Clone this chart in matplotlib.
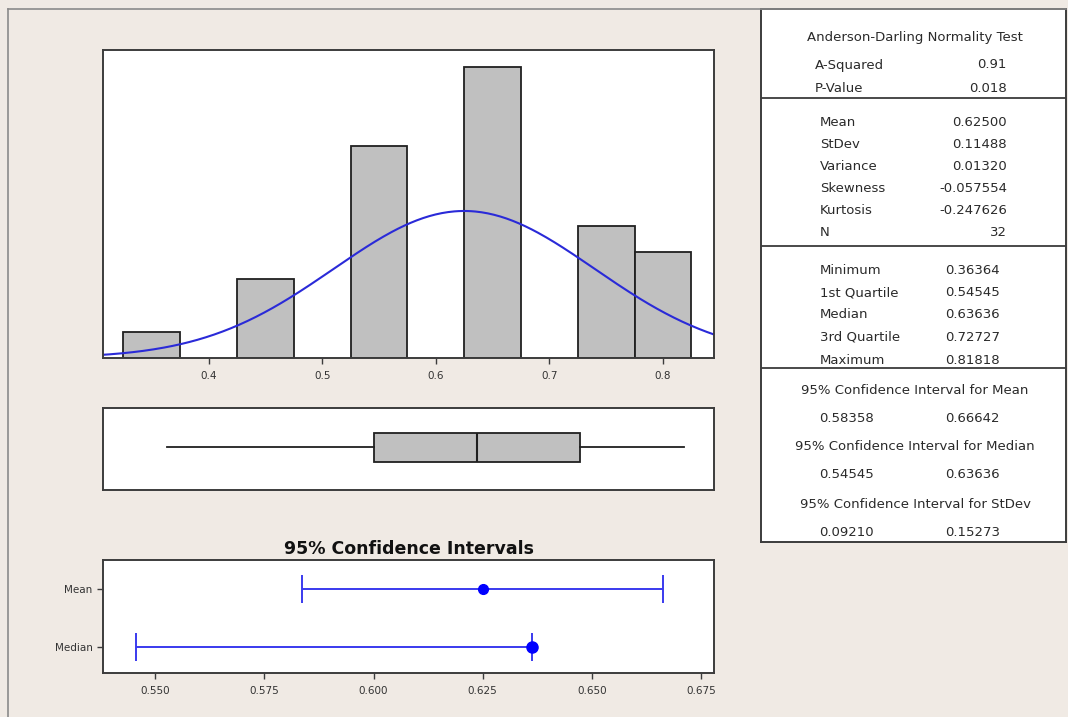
import numpy as np
import matplotlib
matplotlib.use('Agg')
import matplotlib.pyplot as plt
from matplotlib.lines import Line2D

# histogram data (bin centres, counts)
bin_centers = [0.35, 0.45, 0.55, 0.65, 0.75, 0.80]
counts = [1, 3, 8, 11, 5, 4]
bin_width = 0.05
hist_ticks = [0.4, 0.5, 0.6, 0.7, 0.8]

# summary statistics
mean = 0.625
stdev = 0.11488
n = 32
five_num = [0.36364, 0.54545, 0.63636, 0.72727, 0.81818]  # min, q1, med, q3, max

# confidence intervals
ci_labels = ['Mean', 'Median']
ci_centers = [0.625, 0.63636]
ci_low = [0.58358, 0.54545]
ci_high = [0.66642, 0.63636]
ci_ticks = [0.550, 0.575, 0.600, 0.625, 0.650, 0.675]

# summary table text
ad_rows = [('A-Squared', '0.91'), ('P-Value', '0.018')]
desc_rows = [('Mean', '0.62500'), ('StDev', '0.11488'), ('Variance', '0.01320'),
             ('Skewness', '-0.057554'), ('Kurtosis', '-0.247626'), ('N', '32')]
quant_rows = [('Minimum', '0.36364'), ('1st Quartile', '0.54545'), ('Median', '0.63636'),
              ('3rd Quartile', '0.72727'), ('Maximum', '0.81818')]
ci_rows = [('95% Confidence Interval for Mean', '0.58358', '0.66642'),
           ('95% Confidence Interval for Median', '0.54545', '0.63636'),
           ('95% Confidence Interval for StDev', '0.09210', '0.15273')]

bg = '#f0eae4'
frame_col = '#3c3c3c'
W, H = 1068, 717

fig = plt.figure(figsize=(W / 100, H / 100), dpi=100, facecolor=bg)


def px_axes(left, top, right, bottom):
    return fig.add_axes([left / W, 1 - bottom / H, (right - left) / W, (bottom - top) / H])


def style_frame(ax):
    for s in ax.spines.values():
        s.set_color(frame_col)
        s.set_linewidth(1.4)


# outer border lines
fig.add_artist(Line2D([8 / W, 1066 / W], [1 - 9 / H, 1 - 9 / H], color='#8a8a8a', lw=1.2))
fig.add_artist(Line2D([8 / W, 8 / W], [1 - 9 / H, 0], color='#8a8a8a', lw=1.2))

# ---- histogram ----
ax1 = px_axes(103, 50, 714, 358)
ax1.bar(bin_centers, counts, width=bin_width, color='#c0c0c0', edgecolor='#202020', linewidth=1.3)
x = np.linspace(0.30, 0.85, 300)
pdf = np.exp(-0.5 * ((x - mean) / stdev) ** 2) / (stdev * np.sqrt(2 * np.pi))
ax1.plot(x, pdf * n * bin_width, color='#2a2ad8', lw=1.5)
ax1.set_xlim(0.307, 0.845)
ax1.set_ylim(0, 11.64)
ax1.set_yticks([])
ax1.set_xticks(hist_ticks)
ax1.set_xticklabels([f'{t:.1f}' for t in hist_ticks])
ax1.tick_params(axis='x', length=4, width=1, color=frame_col, labelsize=7.5, labelcolor='#333333', pad=5)
style_frame(ax1)

# ---- boxplot ----
ax2 = px_axes(103, 408, 714, 490)
stats = [dict(whislo=five_num[0], q1=five_num[1], med=five_num[2], q3=five_num[3], whishi=five_num[4])]
ax2.bxp(stats, positions=[0.52], widths=0.36, orientation='horizontal', showcaps=False,
        showfliers=False, patch_artist=True,
        boxprops=dict(facecolor='#c0c0c0', edgecolor='#202020', linewidth=1.3),
        medianprops=dict(color='#202020', linewidth=1.5),
        whiskerprops=dict(color='#202020', linewidth=1.3))
ax2.set_xlim(ax1.get_xlim())
ax2.set_ylim(0, 1)
ax2.set_xticks([])
ax2.set_yticks([])
style_frame(ax2)

# ---- confidence intervals ----
ax3 = px_axes(103, 560, 714, 673)
ypos = [2, 1]
for i in range(len(ci_labels)):
    ax3.errorbar(ci_centers[i], ypos[i],
                 xerr=[[ci_centers[i] - ci_low[i]], [ci_high[i] - ci_centers[i]]],
                 fmt='o', color='#0000ff', ecolor='#3a3aee', elinewidth=1.4,
                 capsize=10, capthick=1.4, markersize=7 if i == 0 else 8)
ax3.set_xlim(0.538, 0.678)
ax3.set_ylim(0.56, 2.5)
ax3.set_yticks(ypos)
ax3.set_yticklabels(ci_labels)
ax3.set_xticks(ci_ticks)
ax3.set_xticklabels([f'{t:.3f}' for t in ci_ticks])
ax3.tick_params(length=4, width=1, color=frame_col, labelsize=7.5, labelcolor='#333333')
ax3.tick_params(axis='x', pad=5)
ax3.set_title('95% Confidence Intervals', fontsize=12.5, fontweight='bold', pad=4, color='#111111')
style_frame(ax3)

# ---- summary table ----
tx = px_axes(761, 9, 1066, 542)
tx.set_xlim(761, 1066)
tx.set_ylim(542, 9)
tx.set_xticks([])
tx.set_yticks([])
style_frame(tx)
fs = 9.5
tc = '#2a2a2a'
cx = 915

tx.text(cx, 37, 'Anderson-Darling Normality Test', ha='center', va='center', fontsize=fs, color=tc)
for (lab, val), y in zip(ad_rows, [65, 89]):
    tx.text(815, y, lab, ha='left', va='center', fontsize=fs, color=tc)
    tx.text(1007, y, val, ha='right', va='center', fontsize=fs, color=tc)
tx.axhline(98, color=frame_col, lw=1.3)

for i, (lab, val) in enumerate(desc_rows):
    y = 123 + i * 22
    tx.text(820, y, lab, ha='left', va='center', fontsize=fs, color=tc)
    tx.text(1007, y, val, ha='right', va='center', fontsize=fs, color=tc)
tx.axhline(246, color=frame_col, lw=1.3)

for i, (lab, val) in enumerate(quant_rows):
    y = 270 + i * 22.5
    tx.text(820, y, lab, ha='left', va='center', fontsize=fs, color=tc)
    tx.text(945, y, val, ha='left', va='center', fontsize=fs, color=tc)
tx.axhline(368, color=frame_col, lw=1.3)

for i, (lab, lo, hi) in enumerate(ci_rows):
    y = 390 + i * 57
    tx.text(cx, y, lab, ha='center', va='center', fontsize=fs, color=tc)
    tx.text(819, y + 28, lo, ha='left', va='center', fontsize=fs, color=tc)
    tx.text(945, y + 28, hi, ha='left', va='center', fontsize=fs, color=tc)

plt.savefig('out.png', dpi=100, facecolor=bg)
